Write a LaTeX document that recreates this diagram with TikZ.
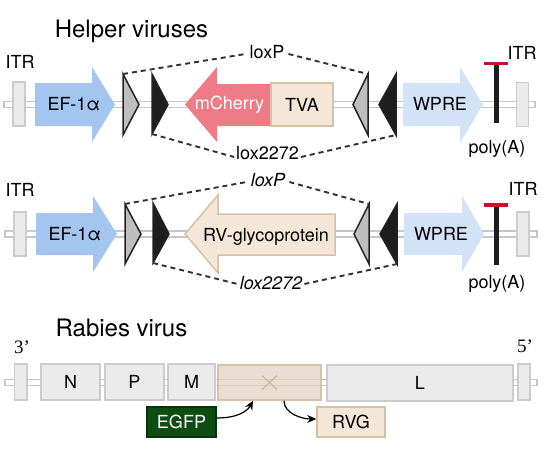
\documentclass[tikz,border=0pt]{standalone}
\usepackage{fontspec}
\newfontfamily\hv{TeX Gyre Heros}
\newfontfamily\tms{Liberation Serif}
\usetikzlibrary{arrows.meta,calc}
\definecolor{bbline}{HTML}{C6C6C6}
\definecolor{itrfill}{HTML}{EBEBEB}
\definecolor{itrline}{HTML}{CCCCCC}
\definecolor{efblue}{HTML}{A3C5F0}
\definecolor{wpreblue}{HTML}{D2E2F7}
\definecolor{mcherry}{HTML}{EE7B86}
\definecolor{tanfill}{HTML}{F4E7D7}
\definecolor{tanline}{HTML}{D4C2A6}
\definecolor{trigray}{HTML}{BEBEBE}
\definecolor{triblack}{HTML}{1E1E1E}
\definecolor{tristroke}{HTML}{222222}
\definecolor{dashc}{HTML}{3B2D2D}
\definecolor{polyred}{HTML}{C8102E}
\definecolor{egfpfill}{HTML}{0B4D12}
\definecolor{egfpline}{HTML}{06330B}
\definecolor{xfill}{HTML}{E2D3C2}
\definecolor{xline}{HTML}{D5C3A8}
\definecolor{xcross}{HTML}{CDB89C}
\begin{document}
\begin{tikzpicture}[x=1pt,y=-1pt,
  lbl/.style={font=\hv\fontsize{18}{20}\selectfont, inner sep=0pt, text height=13pt, text depth=0pt},
  ttl/.style={font=\hv\fontsize{24}{28}\selectfont, inner sep=0pt, text height=17pt, text depth=0pt},
  prime/.style={font=\tms\fontsize{19}{21}\selectfont, inner sep=0pt, text height=12.5pt, text depth=0pt},
  loxlbl/.style={lbl, inner xsep=4pt},
  bb/.style={draw=bbline, line width=1.2pt, fill=white},
  itr/.style={draw=itrline, fill=itrfill, line width=1.5pt, minimum width=12pt, minimum height=44pt, inner sep=0pt},
  gbox/.style={lbl, draw=itrline, fill=itrfill, line width=1.5pt, minimum height=36pt},
  tanbox/.style={lbl, draw=tanline, fill=tanfill, line width=1.5pt},
  tri/.style={draw=tristroke, line width=1.5pt, line join=miter},
  loxline/.style={draw=dashc, line width=1.9pt, dash pattern=on 5pt off 4pt},
  polybar/.style={draw=triblack, line width=4.5pt},
  polytop/.style={draw=polyred, line width=3.5pt},
  conn/.style={draw=black, line width=1.2pt, -{Stealth[length=9pt,width=8pt]}}
]
\useasboundingbox (0,0) rectangle (552,469);
\fill[white] (0,0) rectangle (552,469);

% ---------------- titles
\node[ttl] (t1) at (131.5,29) {Helper viruses};
\node[ttl] (t3) at (121.5,328) {Rabies virus};

% ================= Row 1
\draw[bb] (4,101.5) rectangle (535,107.5);
\node[itr] (itr1L) at (19,104) {};
\node[itr] (itr1R) at (522.5,104.5) {};
\node[lbl] (itr1Lt) at (20,62) {ITR};
\node[lbl] (itr1Rt) at (522,53) {ITR};

\fill[efblue] (35,83) -- (92,83) -- (92,67) -- (115,104.5) -- (92,142) -- (92,126) -- (35,126) -- cycle;
\node[lbl] (ef1) at (74,104) {EF-1α};

\filldraw[tri, fill=trigray] (123,74) coordinate (lg1t) -- (139,104.5) -- (123,135) -- cycle;
\filldraw[tri, fill=triblack] (152,74) -- (168,104.5) -- (152,134) coordinate (lb1b) -- cycle;

\fill[mcherry] (185,104.5) -- (217,67) -- (217,84) -- (271,84) -- (271,126) -- (217,126) -- (217,142) -- cycle;
\node[lbl, text=white] (mch) at (229.5,103) {mCherry};
\node[tanbox, minimum width=62pt, minimum height=43pt] (tva) at (302,104.5) {TVA};

\filldraw[tri, fill=trigray] (368,74) coordinate (rg1t) -- (353,104.5) -- (368,135) -- cycle;
\filldraw[tri, fill=triblack] (396,74) -- (379,104.5) -- (396,135) coordinate (rb1b) -- cycle;

\fill[wpreblue] (403,83) -- (460,83) -- (460,67) -- (483,104.5) -- (460,143) -- (460,126) -- (403,126) -- cycle;
\node[lbl] (wpre1) at (440,104) {WPRE};

\coordinate (pa1top) at (496.5,62);
\coordinate (pa1bot) at (496.5,123);
\draw[polybar] (pa1top) -- (pa1bot);
\draw[polytop] (484,63.5) -- (508,63.5);
\node[lbl] (pa1) at (497,147) {poly(A)};

\node[loxlbl] (loxp1) at (267,52) {loxP};
\node[loxlbl, inner xsep=2pt] (lox22a) at (267.5,153) {lox2272};
\draw[loxline] (lg1t) -- ([yshift=-2pt]loxp1.west);
\draw[loxline] ([yshift=-2pt]loxp1.east) -- (rg1t);
\draw[loxline] (lb1b) -- ([yshift=-4pt]lox22a.west);
\draw[loxline] ([yshift=-4pt]lox22a.east) -- (rb1b);

% ================= Row 2
\draw[bb] (5,231) rectangle (537,237);
\node[itr] (itr2L) at (20,234) {};
\node[itr] (itr2R) at (523,234) {};
\node[lbl] (itr2Lt) at (20,190) {ITR};
\node[lbl] (itr2Rt) at (523,189) {ITR};

\fill[efblue] (36,213) -- (93,213) -- (93,196) -- (117,234) -- (93,272) -- (93,255) -- (36,255) -- cycle;
\node[lbl] (ef2) at (75,234) {EF-1α};

\filldraw[tri, fill=trigray] (125,204) coordinate (lg2t) -- (141,234) -- (125,264) -- cycle;
\filldraw[tri, fill=triblack] (153,203) -- (169,234) -- (153,263) coordinate (lb2b) -- cycle;

\filldraw[draw=tanline, fill=tanfill, line width=1.5pt, line join=miter] (185,234) -- (218,195) -- (218,214) -- (335,214) -- (335,255) -- (218,255) -- (218,273) -- cycle;
\node[lbl] (rvg2) at (266,235) {RV-glycoprotein};

\filldraw[tri, fill=trigray] (369,204) coordinate (rg2t) -- (354,234) -- (369,264) -- cycle;
\filldraw[tri, fill=triblack] (397,204) -- (380,234) -- (397,264) coordinate (rb2b) -- cycle;

\fill[wpreblue] (404,213) -- (462,213) -- (462,196) -- (484,234) -- (462,272) -- (462,255) -- (404,255) -- cycle;
\node[lbl] (wpre2) at (441,234) {WPRE};

\coordinate (pa2top) at (496.5,203);
\coordinate (pa2bot) at (496.5,265);
\draw[polybar] (pa2top) -- (pa2bot);
\draw[polytop] (484,205) -- (508,205);
\node[lbl] (pa2) at (497,282) {poly(A)};

\node[loxlbl, font=\hv\itshape\fontsize{18}{20}\selectfont] (loxp2) at (268,180) {loxP};
\node[loxlbl, inner xsep=2pt, font=\hv\itshape\fontsize{18}{20}\selectfont] (lox22b) at (271,283) {lox2272};
\draw[loxline] (lg2t) -- ([yshift=-2pt]loxp2.west);
\draw[loxline] ([yshift=-2pt]loxp2.east) -- (rg2t);
\draw[loxline] (lb2b) -- ([yshift=-1pt]lox22b.west);
\draw[loxline] ([yshift=-1pt]lox22b.east) -- (rb2b);

% ================= Row 3
\draw[bb] (5,379.5) rectangle (537,385.5);
\node[itr, minimum height=36pt, minimum width=12.5pt] (e3L) at (20.5,382) {};
\node[itr, minimum height=36pt] (e5R) at (524,382) {};
\node[prime] (p3) at (22,347) {3’};
\node[prime] (p5) at (525,346) {5’};

\node[gbox, minimum width=59pt] (N) at (70.5,382) {N};
\node[gbox, minimum width=59pt] (P) at (134.5,382) {P};
\node[gbox, minimum width=47pt] (M) at (191.5,382) {M};
\node[draw=xline, fill=xfill, fill opacity=0.75, line width=1.5pt, minimum width=103pt, minimum height=35pt, inner sep=0pt] (X) at (269.5,382.5) {};
\draw[xcross, line width=1.2pt] ($(X.center)+(-7.5,-7)$) -- ($(X.center)+(7.5,7)$);
\draw[xcross, line width=1.2pt] ($(X.center)+(-7.5,7)$) -- ($(X.center)+(7.5,-7)$);
\node[gbox, minimum width=186pt] (L) at (420,383) {L};

\node[lbl, text=white, draw=egfpline, fill=egfpfill, line width=1.2pt, minimum width=69pt, minimum height=30pt] (egfp) at (181.5,422) {EGFP};
\node[tanbox, minimum width=68pt, minimum height=30pt] (rvg) at (351,422) {RVG};

\draw[conn] ([yshift=4pt]egfp.east) .. controls +(20,0) and +(-6,11) .. ([xshift=-16.5pt]X.south);
\draw[conn] ([xshift=14.5pt]X.south) .. controls +(0,13) and +(-14,0) .. ([yshift=3pt]rvg.west);
\end{tikzpicture}
\end{document}
